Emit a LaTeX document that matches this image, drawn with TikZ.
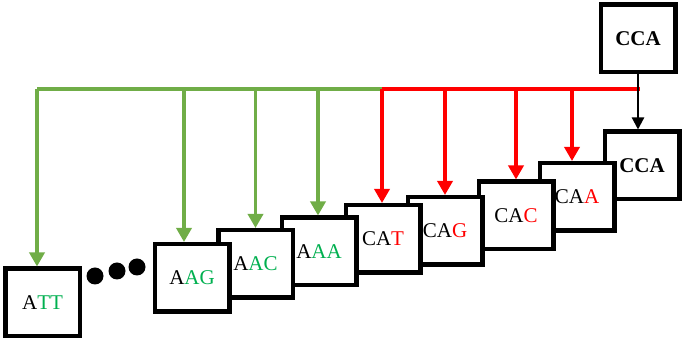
\documentclass[tikz,border=0pt]{standalone}
\usepackage{fontspec}
\setmainfont{Liberation Serif}
\usetikzlibrary{arrows.meta}
\definecolor{lineagreen}{RGB}{112,173,71}
\definecolor{textgreen}{RGB}{0,176,80}
\definecolor{lineared}{RGB}{255,0,0}

\begin{document}
\begin{tikzpicture}[x=1pt,y=1pt,>={Triangle[length=14pt,width=15pt]},
  codon/.style={draw,line width=4.5pt,fill=white,minimum width=74.5pt,minimum height=67.5pt,inner sep=0pt,font=\fontsize{21}{25}\selectfont},
  garrow/.style={->,lineagreen,line width=3.4pt},
  rarrow/.style={->,lineared,line width=3.4pt}]
  \useasboundingbox (0,0) rectangle (685,342);
  % codon de arriba
  \node[codon] (ccatop) at (638,303.5) {\textbf{CCA}};
  % fila de codones (de derecha a izquierda)
  \node[codon] (cca) at (642,176.5) {\textbf{CCA}};
  \node[codon] (caa) at (577,145) {CA\textcolor{lineared}{A}};
  \node[codon] (cac) at (516,126.5) {CA\textcolor{lineared}{C}};
  \node[codon] (cag) at (445,111) {CA\textcolor{lineared}{G}};
  \node[codon] (cat) at (383,103) {CA\textcolor{lineared}{T}};
  \node[codon] (aaa) at (319,90.5) {A\textcolor{textgreen}{AA}};
  \node[codon] (aac) at (255.5,78) {A\textcolor{textgreen}{AC}};
  \node[codon] (aag) at (192,64) {A\textcolor{textgreen}{AG}};
  \node[codon] (att) at (42.5,39.5) {A\textcolor{textgreen}{TT}};
  % puntos suspensivos
  \fill (95,66) circle (8.5pt) (117,71) circle (8.5pt) (137,75) circle (8.5pt);
  % linea comun
  \coordinate (bus) at (0,253);
  \draw[lineagreen,line width=3.4pt] ([xshift=-5.5pt]att.north |- bus) -- ([xshift=-1pt]cat.north |- bus);
  \draw[lineared,line width=3.4pt] ([xshift=-1pt]cat.north |- bus) -- ([xshift=2pt]ccatop.south |- bus);
  % flechas verdes
  \draw[garrow] ([xshift=-5.5pt]att.north |- bus) -- ([xshift=-5.5pt]att.north);
  \draw[garrow] ([xshift=-8pt]aag.north |- bus) -- ([xshift=-8pt]aag.north);
  \draw[garrow] (aac.north |- bus) -- (aac.north);
  \draw[garrow] ([xshift=-1pt]aaa.north |- bus) -- ([xshift=-1pt]aaa.north);
  % flechas rojas
  \draw[rarrow] ([xshift=-1pt]cat.north |- bus) -- ([xshift=-1pt]cat.north);
  \draw[rarrow] (cag.north |- bus) -- (cag.north);
  \draw[rarrow] (cac.north |- bus) -- (cac.north);
  \draw[rarrow] ([xshift=-5pt]caa.north |- bus) -- ([xshift=-5pt]caa.north);
  % flecha negra
  \draw[->,line width=2.2pt,>={Triangle[length=12pt,width=12pt]}] (ccatop.south) -- (ccatop.south |- cca.north);
\end{tikzpicture}
\end{document}
